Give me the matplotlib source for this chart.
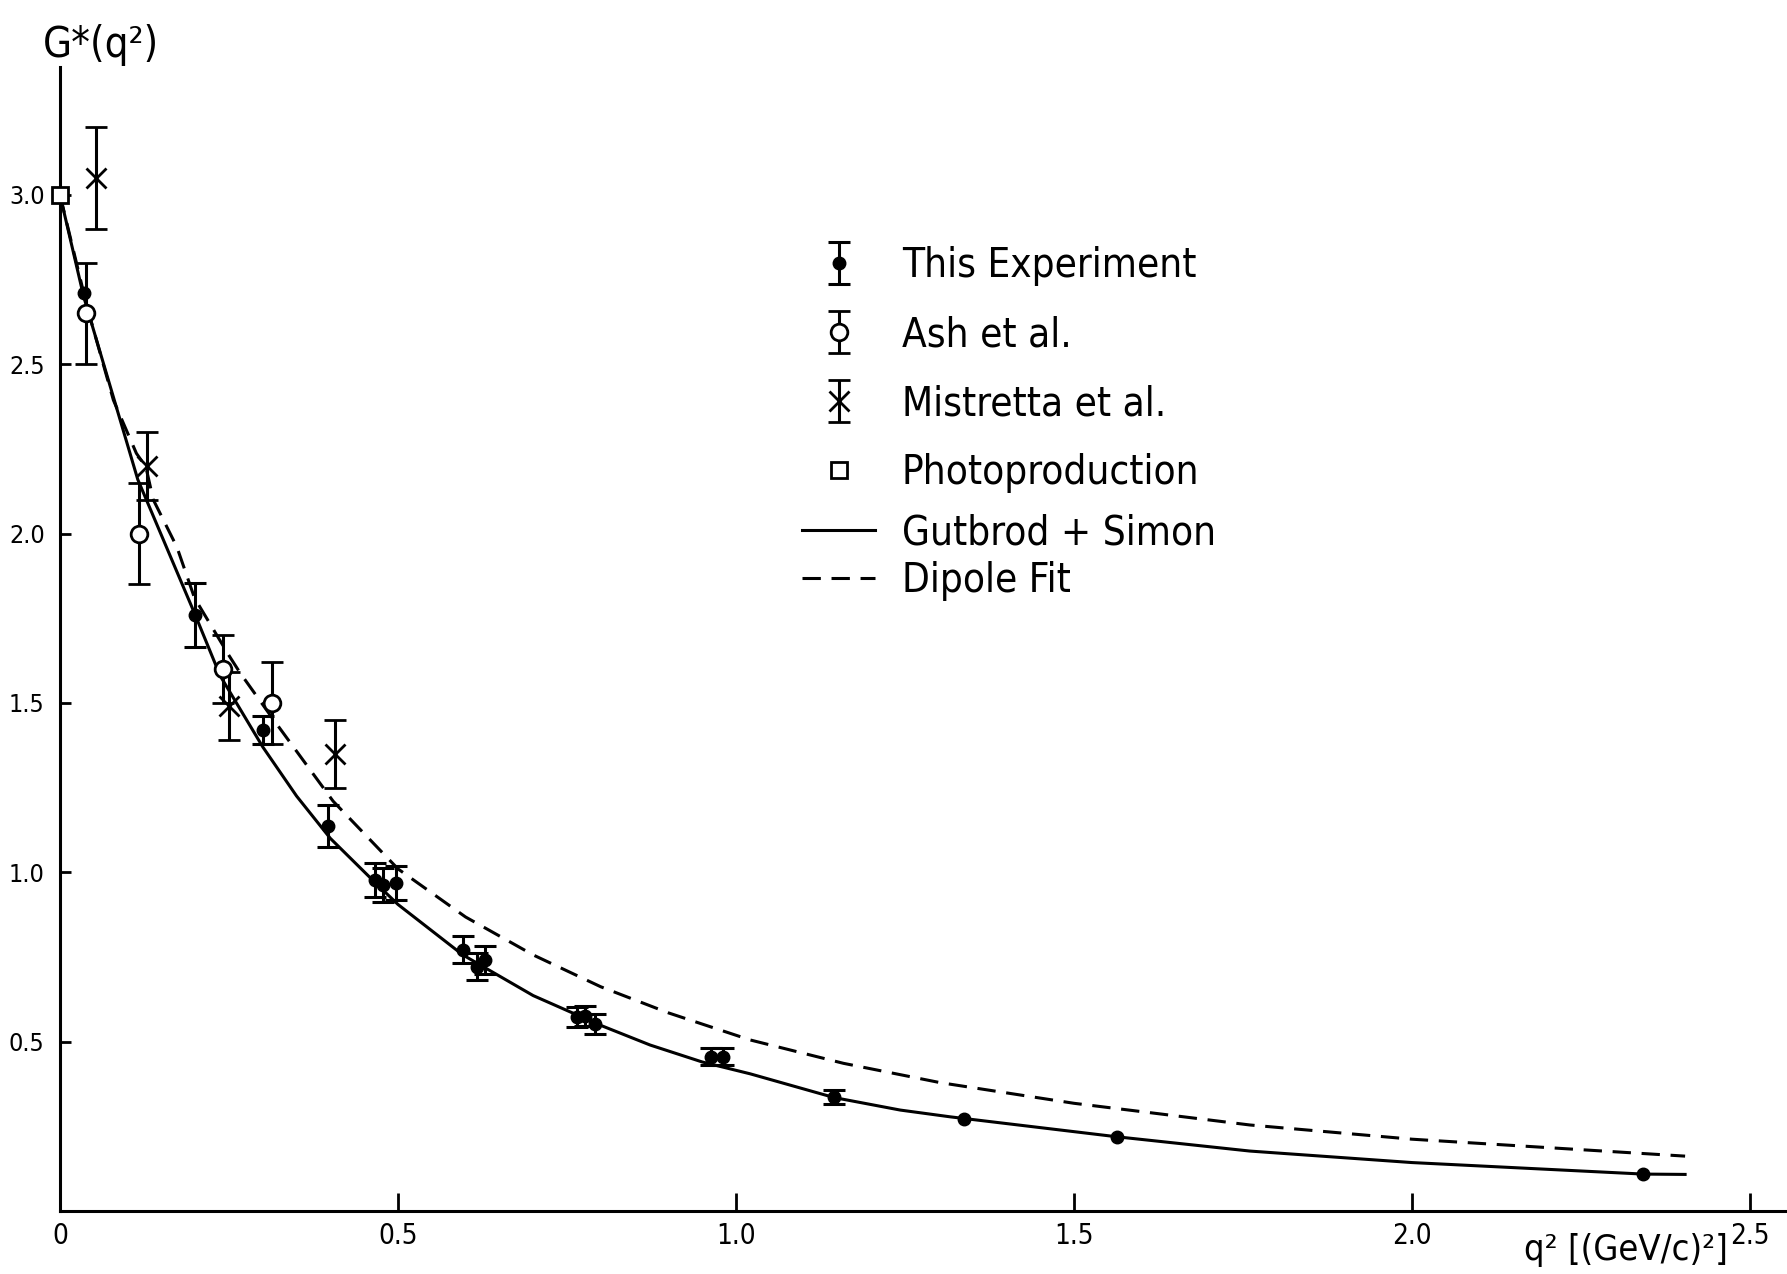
import numpy as np
import matplotlib.pyplot as plt
from matplotlib.container import ErrorbarContainer
from matplotlib.legend_handler import HandlerErrorbar

plt.rcParams['font.family'] = ['DejaVu Sans']
plt.rcParams['font.stretch'] = 'condensed'

# This Experiment (filled dots); error 0 -> no bar visible
this_q = np.array([0.035, 0.20, 0.30, 0.397, 0.466, 0.478, 0.497, 0.596, 0.617, 0.629,
                   0.765, 0.777, 0.792, 0.963, 0.981, 1.145, 1.337, 1.564, 2.342])
this_g = np.array([2.71, 1.76, 1.42, 1.137, 0.977, 0.962, 0.968, 0.771, 0.721, 0.741,
                   0.573, 0.575, 0.552, 0.455, 0.455, 0.337, 0.272, 0.219, 0.109])
this_err = np.array([0.0, 0.095, 0.04, 0.062, 0.05, 0.05, 0.05, 0.04, 0.04, 0.04,
                     0.03, 0.03, 0.03, 0.025, 0.025, 0.02, 0.0, 0.0, 0.0])

# Ash et al. (open circles)
ash_q = [0.038, 0.117, 0.241, 0.314]
ash_g = [2.65, 2.00, 1.60, 1.50]
ash_err = [0.15, 0.15, 0.10, 0.12]

# Mistretta et al. (crosses)
mis_q = [0.053, 0.128, 0.25, 0.407]
mis_g = [3.05, 2.20, 1.49, 1.35]
mis_err = [0.15, 0.10, 0.10, 0.10]

# Photoproduction
photo_q = [0.0]
photo_g = [3.0]

# Gutbrod + Simon curve
gs_q = [0, 0.035, 0.115, 0.2, 0.237, 0.30, 0.35, 0.40, 0.466, 0.50, 0.596, 0.70,
        0.80, 0.873, 0.95, 1.021, 1.145, 1.243, 1.317, 1.564, 1.76, 2.0, 2.342, 2.404]
gs_g = [3.0, 2.70, 2.16, 1.76, 1.58, 1.37, 1.225, 1.10, 0.97, 0.905, 0.756, 0.636,
        0.548, 0.49, 0.44, 0.405, 0.335, 0.298, 0.278, 0.219, 0.177, 0.143, 0.109, 0.108]

# Dipole fit curve
dp_q = [0, 0.04, 0.079, 0.113, 0.127, 0.138, 0.173, 0.199, 0.25, 0.266, 0.316, 0.404,
        0.50, 0.60, 0.70, 0.80, 0.90, 1.021, 1.159, 1.302, 1.50, 1.76, 2.0, 2.404]
dp_g = [3.0, 2.67, 2.394, 2.237, 2.197, 2.10, 1.96, 1.81, 1.64, 1.59, 1.45, 1.21,
        1.01, 0.868, 0.756, 0.662, 0.585, 0.505, 0.436, 0.379, 0.318, 0.254, 0.212, 0.162]

xticks = [0, 0.5, 1.0, 1.5, 2.0, 2.5]
xtick_labels = ['0', '0.5', '1.0', '1.5', '2.0', '2.5']
yticks = [0.5, 1.0, 1.5, 2.0, 2.5, 3.0]
ytick_labels = ['0.5', '1.0', '1.5', '2.0', '2.5', '3.0']

W, H = 1787, 1274
fig = plt.figure(figsize=(W / 100, H / 100), dpi=100)
ax = fig.add_axes([60 / W, 63 / H, 1727 / W, 1144 / H])

lw = 2.2
l_gs, = ax.plot(gs_q, gs_g, color='black', lw=lw)
l_dp, = ax.plot(dp_q, dp_g, color='black', lw=lw, ls=(0, (6, 3.5)))

ebkw = dict(color='black', elinewidth=2.2, capsize=8, capthick=2.2, ls='none')
has = this_err > 0
h_this = ax.errorbar(this_q[has], this_g[has], yerr=this_err[has], fmt='o', ms=9,
                     mfc='black', mec='black', **ebkw)
ax.plot(this_q[~has], this_g[~has], 'o', ms=9, color='black')
h_ash = ax.errorbar(ash_q, ash_g, yerr=ash_err, fmt='o', ms=12, mfc='white',
                    mec='black', mew=2, **ebkw)
h_mis = ax.errorbar(mis_q, mis_g, yerr=mis_err, fmt='x', ms=14, mec='black',
                    mew=2, **ebkw)
h_ph, = ax.plot(photo_q, photo_g, 's', ms=12, mfc='white', mec='black', mew=2,
                clip_on=False, zorder=5)

ax.set_xlim(0, 1727 / 676)
ax.set_ylim(0, 1144 / 338.7)
for s in ['top', 'right']:
    ax.spines[s].set_visible(False)
for s in ['left', 'bottom']:
    ax.spines[s].set_linewidth(lw)

ax.set_xticks(xticks)
ax.set_xticklabels(xtick_labels)
ax.set_yticks(yticks)
ax.set_yticklabels(ytick_labels)
ax.tick_params(axis='x', direction='in', length=13, width=2, labelsize=20, pad=8)
ax.tick_params(axis='y', direction='in', length=8, width=2, labelsize=18, pad=11)

ax.set_xlabel('q² [(GeV/c)²]', fontsize=26, ha='right', va='center')
ax.xaxis.set_label_coords(0.966, -0.034)
ax.set_ylabel('G*(q²)', fontsize=30, rotation=0, ha='center', va='center')
ax.yaxis.set_label_coords(0.0237, 1.019)

fs = 29
hmap = {ErrorbarContainer: HandlerErrorbar(xerr_size=0.5, yerr_size=0.52)}
leg1 = ax.legend([h_this, h_ash, h_mis, h_ph],
                 ['This Experiment', 'Ash et al.', 'Mistretta et al.', 'Photoproduction'],
                 loc='upper left', bbox_to_anchor=(0.4297, 0.8435), borderaxespad=0,
                 borderpad=0, frameon=False, fontsize=fs, handlelength=1.81,
                 handletextpad=0.67, labelspacing=0.72, numpoints=1, handler_map=hmap)
ax.add_artist(leg1)
ax.legend([l_gs, l_dp], ['Gutbrod + Simon', 'Dipole Fit'],
          loc='upper left', bbox_to_anchor=(0.4297, 0.610), borderaxespad=0,
          borderpad=0, frameon=False, fontsize=fs, handlelength=1.81,
          handletextpad=0.67, labelspacing=0.2)

fig.savefig('out.png', dpi=100)
